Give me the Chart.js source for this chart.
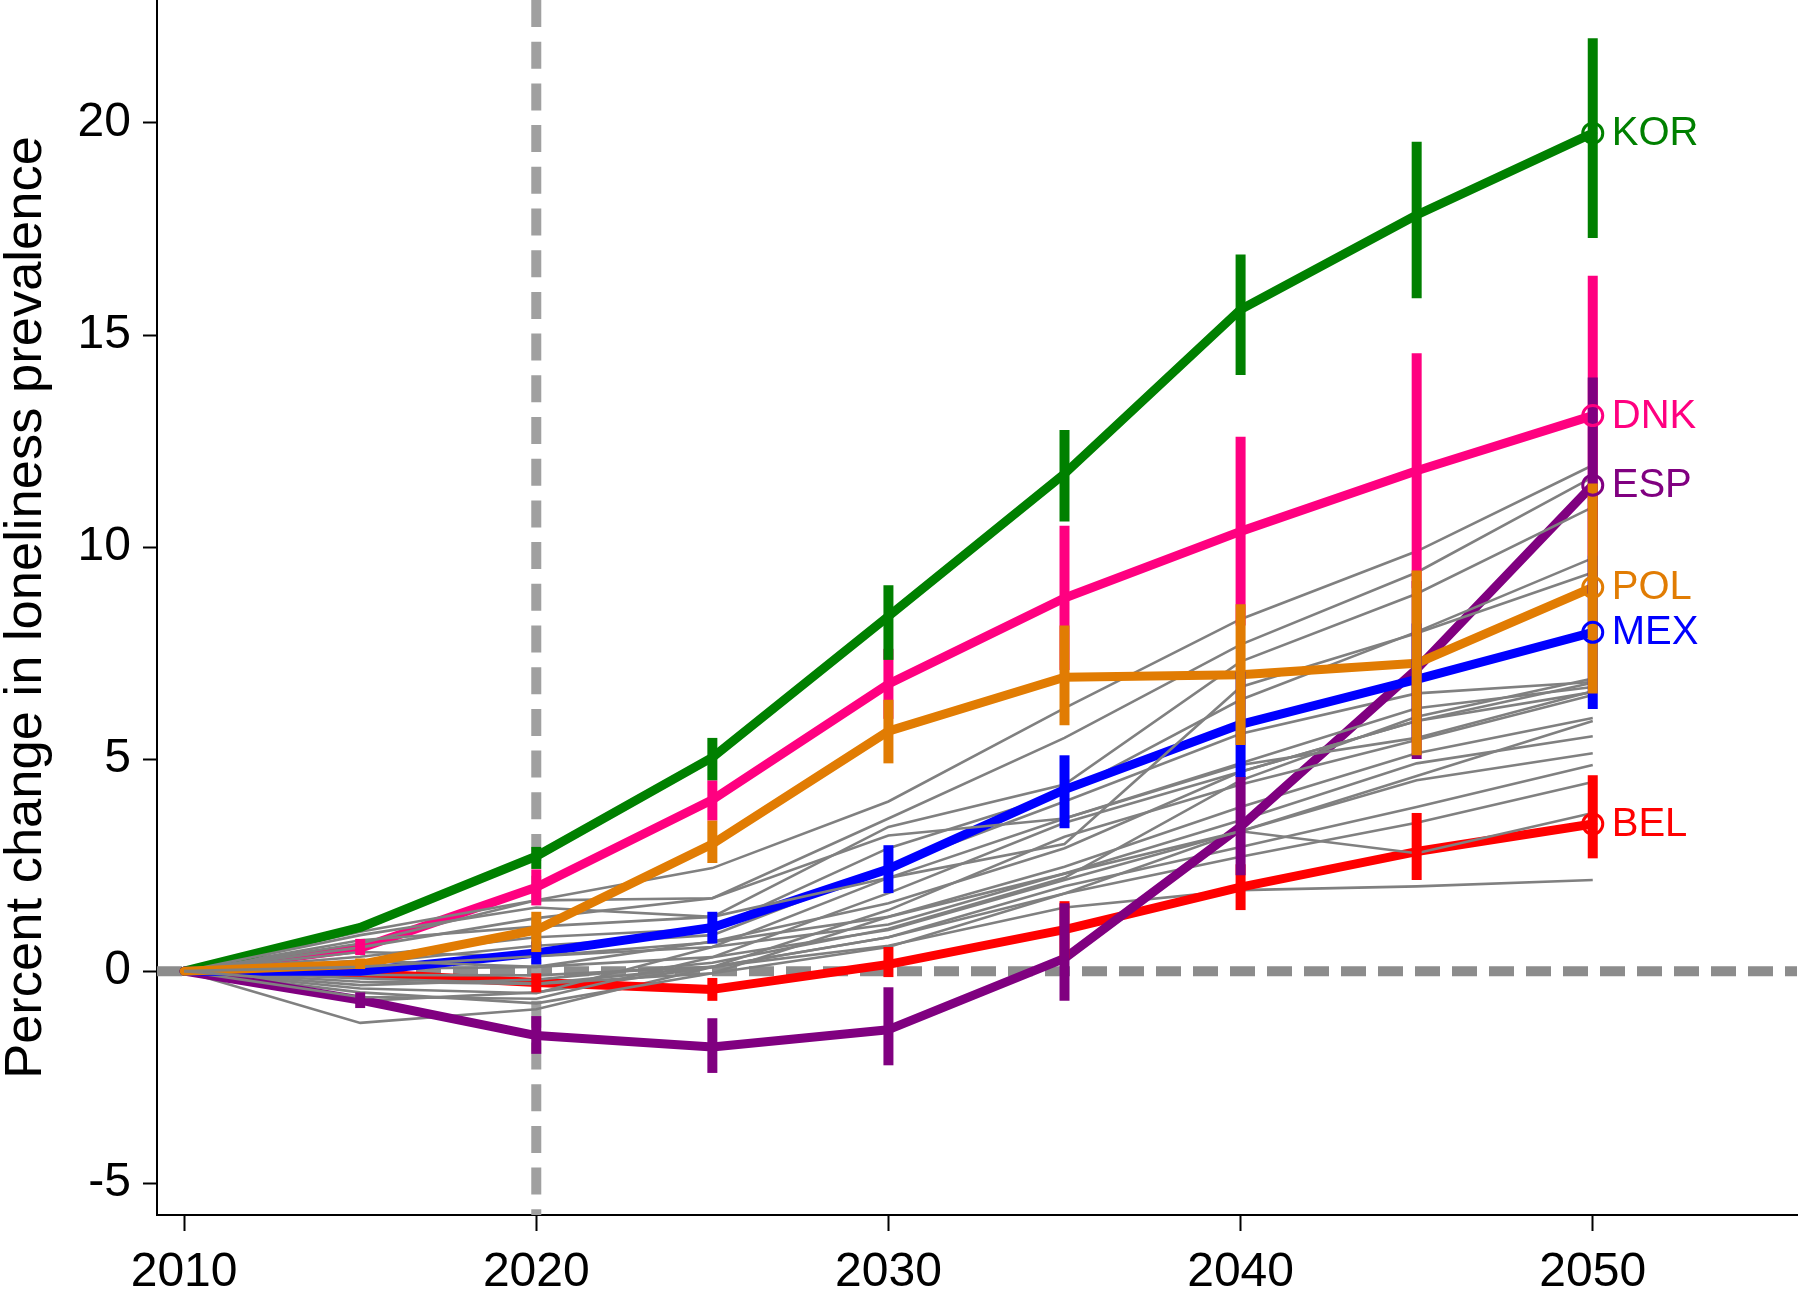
<!DOCTYPE html>
<html>
<head>
<meta charset="utf-8">
<script src="https://cdn.jsdelivr.net/npm/chart.js@4.4.1/dist/chart.umd.min.js"></script>
<style>
    html, body { margin: 0; padding: 0; background: #fff; }
    #wrap { width: 1800px; height: 1290px; }
</style>
</head>
<body>
<div id="wrap"><canvas id="chart" width="1800" height="1290"></canvas></div>
<script>
// Years and tick values
const years = [2010, 2015, 2020, 2025, 2030, 2035, 2040, 2045, 2050];
const xTicks = [2010, 2020, 2030, 2040, 2050];
const yTicks = [-5, 0, 5, 10, 15, 20];

// Highlighted countries: mean and interval ends
const korMean = [0, 1.03, 2.71, 5.04, 8.37, 11.73, 15.6, 17.83, 19.76];
const korLow  = [0, 1.03, 2.41, 4.5, 7.34, 10.6, 14.06, 15.87, 17.29];
const korHigh = [0, 1.03, 2.93, 5.5, 9.1, 12.76, 16.9, 19.56, 22.0];

const dnkMean = [0, 0.54, 1.98, 4.04, 6.77, 8.8, 10.37, 11.8, 13.1];
const dnkLow  = [0, 0.38, 1.55, 3.55, 5.95, 7.1, 8.15, 9.03, 9.8];
const dnkHigh = [0, 0.76, 2.4, 4.5, 7.6, 10.5, 12.6, 14.57, 16.4];

const espMean = [0, -0.68, -1.52, -1.79, -1.38, 0.3, 3.41, 7.12, 11.46];
const espLow  = [0, -0.87, -1.95, -2.4, -2.22, -0.7, 2.26, 5.0, 8.9];
const espHigh = [0, -0.5, -1.06, -1.11, -0.38, 1.6, 4.6, 9.2, 14.0];

const polMean = [0, 0.16, 0.97, 3.0, 5.66, 6.93, 6.99, 7.26, 9.05];
const polLow  = [0, 0.05, 0.45, 2.55, 4.9, 5.8, 5.33, 5.09, 6.55];
const polHigh = [0, 0.3, 1.4, 3.55, 6.4, 8.15, 8.65, 9.45, 11.5];

const mexMean = [0, 0, 0.43, 1.03, 2.41, 4.28, 5.82, 6.88, 7.99];
const mexLow  = [0, 0, 0.16, 0.65, 1.84, 3.37, 4.58, 5.5, 6.18];
const mexHigh = [0, 0, 0.7, 1.4, 2.97, 5.09, 7.06, 8.2, 9.8];

const belMean = [0, -0.05, -0.27, -0.43, 0.16, 0.98, 1.98, 2.82, 3.47];
const belLow  = [0, -0.05, -0.5, -0.7, -0.14, 0.3, 1.44, 2.15, 2.66];
const belHigh = [0, -0.05, -0.05, -0.16, 0.57, 1.65, 2.52, 3.73, 4.62];

// Other countries (grey)
const grayLines = [
    [0, 0.93, 1.67, 2.43, 4.0, 6.2, 8.3, 9.9, 11.93],
    [0, 0.56, 1.25, 1.72, 3.6, 5.5, 7.7, 9.4, 11.65],
    [0, 0.73, 1.05, 1.28, 3.4, 4.4, 7.3, 8.9, 10.94],
    [0, 0.34, 0.8, 1.0, 2.9, 4.2, 6.4, 8.0, 9.74],
    [0, 0.18, 0.6, 0.85, 2.45, 4.0, 5.6, 6.55, 6.82],
    [0, 0.45, 0.35, 0.57, 2.2, 3.6, 4.9, 6.2, 6.7],
    [0, 0.05, 0.1, 0.33, 1.84, 3.5, 4.7, 5.9, 6.58],
    [0, -0.09, -0.1, 0.1, 1.44, 3.17, 4.4, 5.45, 6.51],
    [0, -0.25, -0.3, -0.05, 1.28, 2.46, 3.87, 5.14, 5.97],
    [0, -0.41, -0.52, 0.57, 1.1, 2.3, 3.56, 4.9, 5.54],
    [0, -0.61, -0.65, 0.33, 0.97, 2.15, 3.3, 4.5, 5.14],
    [0, -1.22, -0.9, 0.1, 0.8, 2.0, 2.93, 3.87, 4.86],
    [0, -0.5, -0.76, -0.05, 0.57, 1.83, 2.7, 3.5, 4.46],
    [0, -0.17, -0.3, 0.1, 0.8, 1.83, 3.3, 2.78, 3.73],
    [0, -0.7, -0.5, 0.1, 0.6, 1.5, 1.91, 2.0, 2.15],
    [0, 0.65, 1.67, 1.72, 3.2, 3.6, 4.86, 5.5, 6.6],
    [0, 0.85, 1.5, 1.28, 2.2, 3.0, 6.7, 7.97, 9.4],
    [0, 0.25, 0.1, 0.7, 1.6, 2.9, 4.7, 5.9, 6.8],
    [0, -0.33, -0.2, 0.2, 1.0, 2.2, 4.5, 6.0, 6.9],
    [0, 0.1, 0.35, 0.68, 1.28, 2.3, 3.3, 4.6, 5.9]
];

const countries = {
    BEL: { color: '#FF0000', mean: belMean, low: belLow, high: belHigh },
    DNK: { color: '#FF0080', mean: dnkMean, low: dnkLow, high: dnkHigh },
    ESP: { color: '#800080', mean: espMean, low: espLow, high: espHigh },
    KOR: { color: '#008000', mean: korMean, low: korLow, high: korHigh },
    MEX: { color: '#0000FF', mean: mexMean, low: mexLow, high: mexHigh },
    POL: { color: '#E17C03', mean: polMean, low: polLow, high: polHigh }
};

// Order the lines are painted in (grey index or country code)
const paintOrder = [14, 11, 'BEL', 4, 8, 9, 12, 13, 'DNK', 'ESP', 0, 1, 2, 3, 5, 6, 7, 10,
    'KOR', 'MEX', 15, 16, 17, 'POL', 18, 19];

const FONT = "'Liberation Sans', Arial, Helvetica, sans-serif";

function toPoints(vals) {
    return years.map((yr, i) => ({ x: yr, y: vals[i] }));
}

const datasets = paintOrder.map((key, i) => {
    const n = paintOrder.length;
    if (typeof key === 'number') {
        return {
            label: 'other' + key,
            data: toPoints(grayLines[key]),
            borderColor: '#808080',
            borderWidth: 2.6,
            pointRadius: 0,
            tension: 0,
            order: n - i
        };
    }
    const c = countries[key];
    return {
        label: key,
        data: toPoints(c.mean),
        borderColor: c.color,
        borderWidth: 9,
        borderJoinStyle: 'round',
        borderCapStyle: 'round',
        pointRadius: 0,
        tension: 0,
        order: n - i
    };
});

// Reference lines, error bars, end circles and labels
const overlayPlugin = {
    id: 'overlay',
    beforeDatasetsDraw(chart) {
        const { ctx, chartArea, scales } = chart;
        const x = scales.x, y = scales.y;
        ctx.save();
        ctx.lineCap = 'butt';
        // horizontal zero line
        ctx.strokeStyle = '#8C8C8C';
        ctx.lineWidth = 10;
        ctx.setLineDash([25, 12]);
        ctx.beginPath();
        ctx.moveTo(chartArea.left, y.getPixelForValue(0));
        ctx.lineTo(chartArea.right, y.getPixelForValue(0));
        ctx.stroke();
        // vertical line at 2020
        ctx.strokeStyle = '#A0A0A0';
        ctx.setLineDash([27, 14.7]);
        ctx.beginPath();
        ctx.moveTo(x.getPixelForValue(2020), chartArea.top);
        ctx.lineTo(x.getPixelForValue(2020), chartArea.bottom);
        ctx.stroke();
        ctx.restore();
    },
    afterDatasetsDraw(chart) {
        const { ctx, scales } = chart;
        const x = scales.x, y = scales.y;
        const codes = Object.keys(countries);
        ctx.save();
        ctx.setLineDash([]);
        ctx.lineCap = 'butt';
        codes.forEach(code => {
            const c = countries[code];
            ctx.strokeStyle = c.color;
            ctx.lineWidth = 10;
            years.forEach((yr, i) => {
                if (c.high[i] - c.low[i] <= 0) return;
                const px = x.getPixelForValue(yr);
                ctx.beginPath();
                ctx.moveTo(px, y.getPixelForValue(c.low[i]));
                ctx.lineTo(px, y.getPixelForValue(c.high[i]));
                ctx.stroke();
            });
        });
        const last = years.length - 1;
        codes.forEach(code => {
            const c = countries[code];
            const px = x.getPixelForValue(years[last]);
            const py = y.getPixelForValue(c.mean[last]);
            ctx.strokeStyle = c.color;
            ctx.lineWidth = 3;
            ctx.beginPath();
            ctx.arc(px, py, 10, 0, Math.PI * 2);
            ctx.stroke();
            ctx.fillStyle = c.color;
            ctx.font = '40px ' + FONT;
            ctx.textAlign = 'left';
            ctx.textBaseline = 'middle';
            ctx.fillText(code, px + 19, py + 1);
        });
        ctx.restore();
    }
};

new Chart(document.getElementById('chart').getContext('2d'), {
    type: 'line',
    data: { datasets },
    options: {
        responsive: false,
        animation: false,
        layout: { padding: { left: 0, right: 3, top: 0, bottom: 0 } },
        plugins: {
            legend: { display: false },
            tooltip: { enabled: false }
        },
        scales: {
            x: {
                type: 'linear',
                min: 2009.23,
                max: 2055.8,
                afterBuildTicks: s => { s.ticks = xTicks.map(v => ({ value: v })); },
                afterFit: s => { s.height = 75; },
                ticks: {
                    autoSkip: false,
                    maxRotation: 0,
                    color: '#000',
                    padding: 13,
                    font: { family: FONT, size: 48 },
                    callback: v => String(v)
                },
                grid: { drawOnChartArea: false, drawTicks: true, tickLength: 16, tickWidth: 2, tickColor: '#000' },
                border: { display: true, color: '#000', width: 2 }
            },
            y: {
                type: 'linear',
                min: -5.75,
                max: 22.9,
                afterBuildTicks: s => { s.ticks = yTicks.map(v => ({ value: v })); },
                afterFit: s => { s.width = 157; s.paddingTop = 0; s.paddingBottom = 0; },
                ticks: {
                    color: '#000',
                    padding: 12,
                    font: { family: FONT, size: 48 },
                    callback: v => String(v)
                },
                title: {
                    display: true,
                    text: 'Percent change in loneliness prevalence',
                    color: '#000',
                    font: { family: FONT, size: 52.5, lineHeight: 1 },
                    padding: { top: 0, bottom: 0 }
                },
                grid: { drawOnChartArea: false, drawTicks: true, tickLength: 14, tickWidth: 2, tickColor: '#000' },
                border: { display: true, color: '#000', width: 2 }
            }
        }
    },
    plugins: [overlayPlugin]
});
</script>
</body>
</html>
